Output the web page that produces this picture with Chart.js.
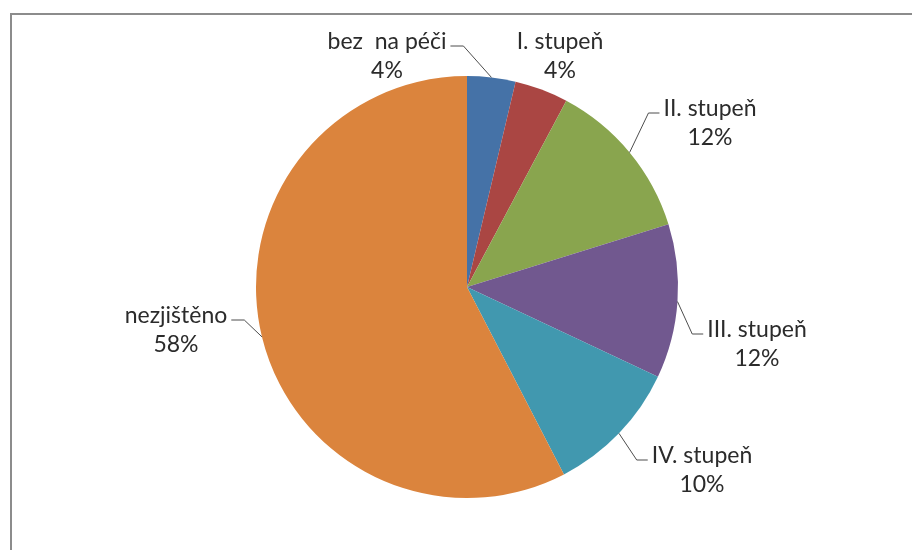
<!DOCTYPE html>
<html>
<head>
<meta charset="utf-8">
<script src="https://cdn.jsdelivr.net/npm/chart.js@4.4.1/dist/chart.umd.min.js"></script>
<style>
  body { margin: 0; background: #fff; }
  #wrap { width: 912px; height: 550px; position: relative; }
</style>
</head>
<body>
<div id="wrap"><canvas id="myGraf"></canvas></div>
<script>
// data
const categories = ['bez  na péči', 'I. stupeň', 'II. stupeň', 'III. stupeň', 'IV. stupeň', 'nezjištěno'];
const values = [3.7, 4.1, 12.4, 11.8, 10.4, 57.6];
const colors = ['#4572A7', '#AA4643', '#89A54E', '#71588F', '#4198AF', '#DB843D'];

// where each label sits, relative to the pie centre (px) and if it gets a leader line
const labelOffsets = [[-80, -245], [93, -245], [243, -178], [290, 43], [235, 169], [-291, 29]];
const showLeader = [true, false, true, true, true, true];

const fontLabel = '23px Lato';

// frame round the chart
const framePlugin = {
  id: 'frame',
  beforeDraw(chart) {
    const ctx = chart.ctx;
    ctx.save();
    ctx.strokeStyle = '#8c8c8c';
    ctx.lineWidth = 2;
    ctx.beginPath();
    ctx.moveTo(11, chart.height);
    ctx.lineTo(11, 14);
    ctx.lineTo(chart.width, 14);
    ctx.stroke();
    ctx.restore();
  }
};

// labels with percent and leader lines
const labelPlugin = {
  id: 'pieLabels',
  afterDatasetsDraw(chart) {
    const ctx = chart.ctx;
    const meta = chart.getDatasetMeta(0);
    const total = values.reduce((a, b) => a + b, 0);
    ctx.save();
    ctx.font = fontLabel;
    ctx.fillStyle = '#2b2b2b';
    ctx.textAlign = 'center';
    ctx.textBaseline = 'middle';
    meta.data.forEach((arc, i) => {
      const cx = arc.x, cy = arc.y, r = arc.outerRadius;
      const mid = (arc.startAngle + arc.endAngle) / 2;
      const lx = cx + labelOffsets[i][0];
      const ly = cy + labelOffsets[i][1];
      const pct = Math.round(values[i] / total * 100) + '%';
      ctx.fillText(categories[i], lx, ly);
      ctx.fillText(pct, lx, ly + 29);

      if (showLeader[i]) {
        const ex = cx + r * Math.cos(mid);
        const ey = cy + r * Math.sin(mid);
        const w = ctx.measureText(categories[i]).width;
        let tx, elx;
        if (lx > ex) {
          tx = lx - w / 2 - 4;
          elx = tx - 11;
        } else {
          tx = lx + w / 2 + 4;
          elx = tx + 13;
        }
        const hy = ly + 4;
        ctx.strokeStyle = '#4d4d4d';
        ctx.lineWidth = 1;
        ctx.beginPath();
        ctx.moveTo(ex, ey);
        ctx.lineTo(elx, hy);
        ctx.lineTo(tx, hy);
        ctx.stroke();
      }
    });
    ctx.restore();
  }
};

let myChart = {
  type: 'pie',
  data: {
    labels: categories,
    datasets: [{
      data: values,
      backgroundColor: colors,
      borderWidth: 0
    }]
  },
  options: {
    responsive: true,
    maintainAspectRatio: false,
    animation: false,
    layout: {
      padding: { left: 256, right: 234, top: 76, bottom: 52 }
    },
    plugins: {
      legend: { display: false },
      tooltip: { enabled: false }
    }
  },
  plugins: [framePlugin, labelPlugin]
};

var myGraf = document.getElementById('myGraf');
window.pie = new Chart(myGraf, myChart);
</script>
</body>
</html>
